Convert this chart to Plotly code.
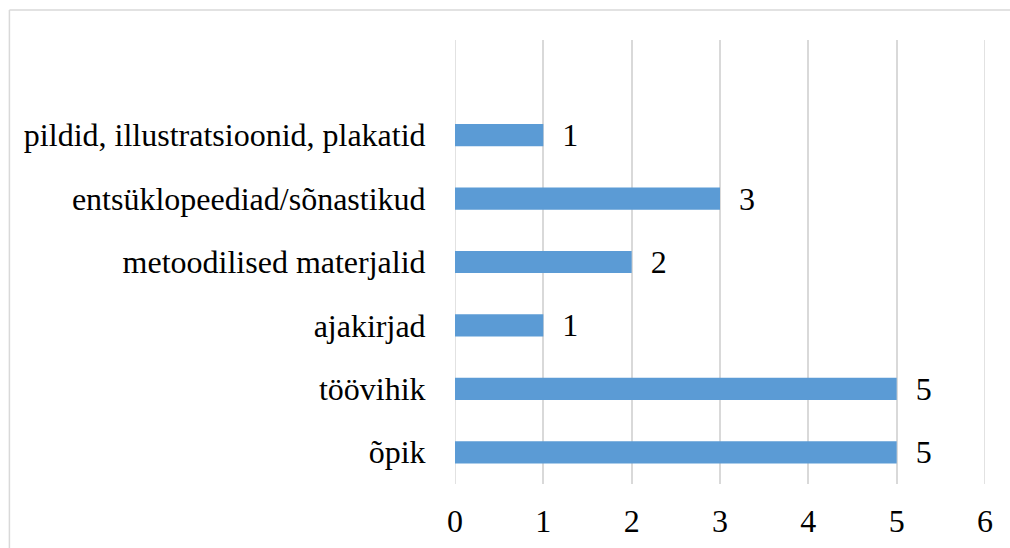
import plotly.graph_objects as go

categories = ["õpik", "töövihik", "ajakirjad", "metoodilised materjalid",
              "entsüklopeediad/sõnastikud", "pildid, illustratsioonid, plakatid"]
values = [5, 5, 1, 2, 3, 1]
x_ticks = [0, 1, 2, 3, 4, 5, 6]

FONT = "Liberation Serif"
GRID = "#d9d9d9"

fig = go.Figure(go.Bar(
    y=categories, x=values, orientation="h",
    marker=dict(color="#5b9bd5", line=dict(width=0)),
    width=0.35,
    text=[str(v) for v in values],
    texttemplate="  %{text}",
    textposition="outside",
    constraintext="none",
    cliponaxis=False,
    outsidetextfont=dict(family=FONT, size=32, color="#000000"),
))

W, H = 1010, 548
L, R, T, B = 455, 24.5, 39.5, 64
pw = W - L - R
ph = H - T - B
bx = (9 - L) / pw
by = (H - B - 9.5) / ph

shapes = [
    dict(type="line", xref="paper", yref="paper", x0=bx, x1=1.2, y0=by, y1=by,
         line=dict(color=GRID, width=1.5)),
    dict(type="line", xref="paper", yref="paper", x0=bx, x1=bx, y0=by, y1=-0.3,
         line=dict(color=GRID, width=1.5)),
]
# gridlines at the range edges (plotly omits those)
for xv in (x_ticks[0], x_ticks[-1]):
    shapes.append(dict(type="line", xref="x", yref="paper", x0=xv, x1=xv, y0=0, y1=1,
                       line=dict(color=GRID, width=1.5), layer="below"))

fig.update_layout(
    width=W, height=H,
    margin=dict(l=L, r=R, t=T, b=B, pad=0, autoexpand=False),
    paper_bgcolor="white", plot_bgcolor="white",
    showlegend=False,
    font=dict(family=FONT, size=32, color="#000000"),
    xaxis=dict(range=[0, 6], tickvals=x_ticks, ticktext=[str(t) for t in x_ticks],
               showgrid=True, gridcolor=GRID, gridwidth=1.5,
               zeroline=False, showline=False, automargin=False,
               ticks="outside", ticklen=9, tickcolor="rgba(0,0,0,0)",
               tickfont=dict(family=FONT, size=32, color="#000000")),
    yaxis=dict(type="category", categoryorder="array", categoryarray=categories,
               range=[-0.5, 6.5], showgrid=False, zeroline=False, showline=False,
               automargin=False,
               ticks="outside", ticklen=22, tickcolor="rgba(0,0,0,0)",
               tickfont=dict(family=FONT, size=32, color="#000000")),
    shapes=shapes,
)

fig.write_html("out.html")
